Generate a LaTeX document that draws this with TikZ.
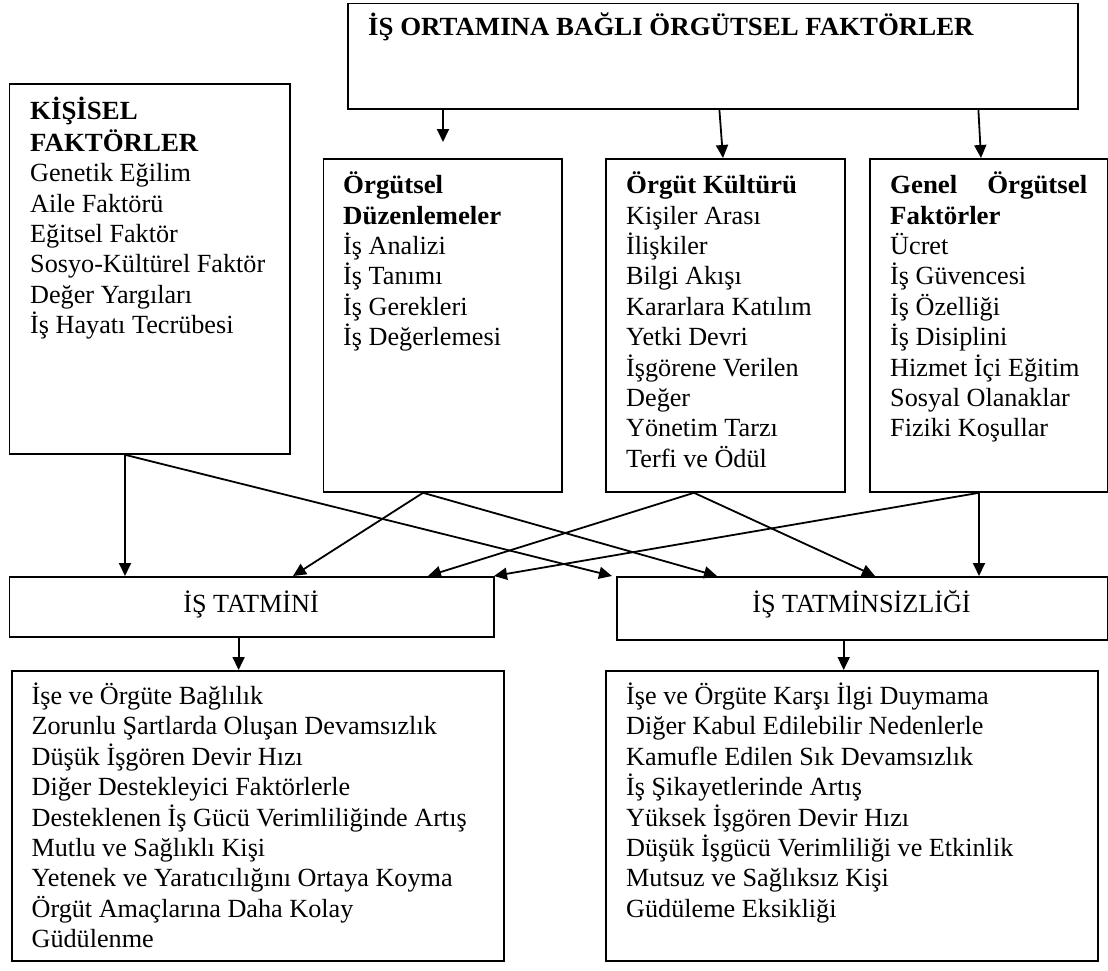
\documentclass[tikz,border=0pt]{standalone}
\usepackage{fontspec}
\setmainfont{Liberation Serif}[BoldFeatures={FakeStretch=1.025}]
\usetikzlibrary{arrows.meta}
\begin{document}
\begin{tikzpicture}[x=1bp,y=-1bp,
  box/.style={draw,line width=1.8bp,inner sep=0,anchor=north west},
  txt/.style={inner sep=0,align=left,anchor=north west,font=\fontsize{26.2bp}{30.4bp}\selectfont},
  lbl/.style={inner sep=0,font=\fontsize{26.2bp}{30.4bp}\selectfont},
  arr/.style={line width=1.8bp,-{Triangle[length=13bp,width=12bp]}}]
\useasboundingbox (0,0) rectangle (1108,971);
% boxes
\node[box,minimum width=730bp,minimum height=105.5bp] (top) at (347,2.5) {};
\node[box,minimum width=280.4bp,minimum height=370bp] (kis) at (8.6,83) {};
\node[box,minimum width=238.5bp,minimum height=333bp] (duz) at (322.5,158) {};
\node[box,minimum width=238.7bp,minimum height=333bp] (kul) at (605,158) {};
\node[box,minimum width=237.8bp,minimum height=333bp] (gen) at (868.7,158) {};
\node[box,minimum width=484.4bp,minimum height=60bp] (tat) at (8.6,576) {};
\node[box,minimum width=490.5bp,minimum height=63bp] (tsz) at (616,576) {};
\node[box,minimum width=492.3bp,minimum height=290bp] (lbl) at (10.7,670) {};
\node[box,minimum width=492bp,minimum height=290bp] (lbr) at (605,670) {};
% texts
\node[lbl,anchor=base west] (topT) at (368,35) {\bfseries İŞ ORTAMINA BAĞLI ÖRGÜTSEL FAKTÖRLER};
\node[txt] (kisT) at (30,96.7) {\strut\textbf{KİŞİSEL}\\\textbf{FAKTÖRLER}\\Genetik Eğilim\\Aile Faktörü\\Eğitsel Faktör\\Sosyo-Kültürel Faktör\\Değer Yargıları\\İş Hayatı Tecrübesi};
\node[txt] (duzT) at (343,171.7) {\strut\textbf{Örgütsel}\\\textbf{Düzenlemeler}\\İş Analizi\\İş Tanımı\\İş Gerekleri\\İş Değerlemesi};
\node[txt] (kulT) at (626,171.7) {\strut\textbf{Örgüt Kültürü}\\Kişiler Arası\\İlişkiler\\Bilgi Akışı\\Kararlara Katılım\\Yetki Devri\\İşgörene Verilen\\Değer\\Yönetim Tarzı\\Terfi ve Ödül};
\node[txt] (genT) at (890,171.7) {\strut\hbox to 197bp{\bfseries Genel\hfill Örgütsel}\\\textbf{Faktörler}\\Ücret\\İş Güvencesi\\İş Özelliği\\İş Disiplini\\Hizmet İçi Eğitim\\Sosyal Olanaklar\\Fiziki Koşullar};
\node[lbl,anchor=base] (tatT) at (251,612) {İŞ TATMİNİ};
\node[lbl,anchor=base] (tszT) at (861.5,612) {İŞ TATMİNSİZLİĞİ};
\node[txt] (lblT) at (31.4,682.7) {\strut İşe ve Örgüte Bağlılık\\Zorunlu Şartlarda Oluşan Devamsızlık\\Düşük İşgören Devir Hızı\\Diğer Destekleyici Faktörlerle\\Desteklenen İş Gücü Verimliliğinde Artış\\Mutlu ve Sağlıklı Kişi\\Yetenek ve Yaratıcılığını Ortaya Koyma\\Örgüt Amaçlarına Daha Kolay\\Güdülenme};
\node[txt] (lbrT) at (626,682.7) {\strut İşe ve Örgüte Karşı İlgi Duymama\\Diğer Kabul Edilebilir Nedenlerle\\Kamufle Edilen Sık Devamsızlık\\İş Şikayetlerinde Artış\\Yüksek İşgören Devir Hızı\\Düşük İşgücü Verimliliği ve Etkinlik\\Mutsuz ve Sağlıksız Kişi\\Güdüleme Eksikliği};
% connectors
\coordinate (a1) at (443,142);
\draw[arr] (top.south -| 443,0) -- (a1);
\draw[arr] (top.south -| 719.4,0) -- (kul.north -| 723,0);
\draw[arr] (top.south -| 978.4,0) -- (gen.north -| 981,0);
\draw[arr] (kis.south -| 125,0) -- (tat.north -| 125,0);
\draw[arr] (kis.south -| 125,0) -- (tsz.north -| 612,0);
\draw[arr] (duz.south -| 423,0) -- (tat.north -| 293,0);
\draw[arr] (duz.south -| 423,0) -- (tsz.north -| 717,0);
\draw[arr] (kul.south -| 694,0) -- (tat.north -| 428,0);
\draw[arr] (kul.south -| 694,0) -- (tsz.north -| 875,0);
\draw[arr] (gen.south -| 979,0) -- (tat.north -| 494,0);
\draw[arr] (gen.south -| 979,0) -- (tsz.north -| 979,0);
\draw[arr] (tat.south -| 238.6,0) -- (lbl.north -| 238.6,0);
\draw[arr] (tsz.south -| 843.7,0) -- (lbr.north -| 843.7,0);
\end{tikzpicture}
\end{document}
